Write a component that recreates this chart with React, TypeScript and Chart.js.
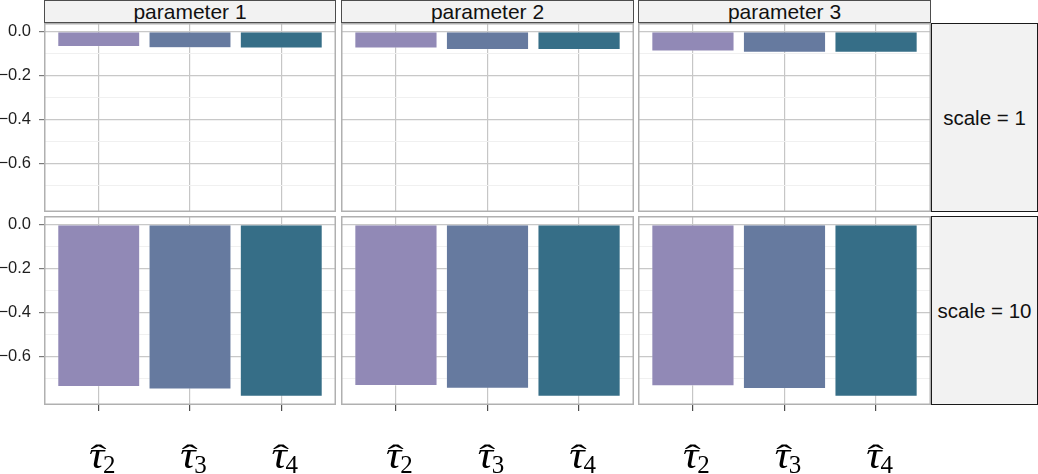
import React, { useEffect, useRef } from "react";
import { Chart, registerables } from "chart.js";
Chart.register(...registerables);

// ---------- data ----------
const parameterNames = ["parameter 1", "parameter 2", "parameter 3"];
const scaleNames = ["scale = 1", "scale = 10"];
const categories = ["τ̂₂", "τ̂₃", "τ̂₄"];
const barColors = ["#9189B6", "#667A9F", "#366E87"];

const scale1Param1 = [-0.068, -0.074, -0.075];
const scale1Param2 = [-0.075, -0.082, -0.082];
const scale1Param3 = [-0.089, -0.094, -0.094];
const scale10Param1 = [-0.737, -0.749, -0.782];
const scale10Param2 = [-0.733, -0.745, -0.782];
const scale10Param3 = [-0.734, -0.746, -0.782];

const yMajorTicks = [0, -0.2, -0.4, -0.6];
const yMinorTicks = [-0.1, -0.3, -0.5, -0.7];
const yMin = -0.821;
const yMax = 0.039;

const panelValues = [
  [scale1Param1, scale1Param2, scale1Param3],
  [scale10Param1, scale10Param2, scale10Param3],
];

// ---------- layout ----------
const W = 1038;
const H = 474;
const colLeft = [44, 341, 638];
const colRight = [336, 634, 931];
const rowTop = [23, 216];
const rowBottom = [212, 405];
const stripH = 23;
const rightStripLeft = 931;

const subMap: Record<string, string> = { "₀": "0", "₁": "1", "₂": "2", "₃": "3", "₄": "4", "₅": "5", "₆": "6", "₇": "7", "₈": "8", "₉": "9" };

const isMajor = (v: number) => yMajorTicks.some((t) => Math.abs(t - v) < 1e-9);
const fmt = (v: number) => (Math.abs(v) < 1e-9 ? "0.0" : "\u2212" + Math.abs(v).toFixed(1));

function zeroPad(s: any) {
  s.paddingTop = 0;
  s.paddingBottom = 0;
  s.paddingLeft = 0;
  s.paddingRight = 0;
}

function Panel({ row, col }: { row: number; col: number }) {
  const ref = useRef<HTMLCanvasElement | null>(null);
  const leftAxisW = col === 0 ? 44 : 0;
  const bottomAxisH = row === 1 ? H - rowBottom[1] : 0;
  const width = colRight[col] - colLeft[col] + leftAxisW;
  const height = rowBottom[row] - rowTop[row] + bottomAxisH;

  useEffect(() => {
    if (!ref.current) return;
    const values = panelValues[row][col];
    const panelPlugin = {
      id: "panelDeco",
      afterDatasetsDraw(chart: any) {
        const { ctx, chartArea } = chart;
        ctx.save();
        ctx.strokeStyle = "#B0B0B0";
        ctx.lineWidth = 1.5;
        ctx.strokeRect(chartArea.left + 0.75, chartArea.top + 0.75, chartArea.right - chartArea.left - 1.5, chartArea.bottom - chartArea.top - 1.5);
        ctx.restore();
      },
      afterDraw(chart: any) {
        if (row !== 1) return;
        const { ctx, chartArea } = chart;
        const xs = chart.scales.x;
        ctx.save();
        ctx.fillStyle = "#000";
        ctx.textBaseline = "alphabetic";
        ctx.textAlign = "left";
        categories.forEach((label, i) => {
          const px = xs.getPixelForValue(i + 1);
          const base = label[0];
          const subRaw = label.slice(2);
          const sub = subRaw.split("").map((ch) => subMap[ch] ?? ch).join("");
          const baseFont = "italic 38px 'Liberation Serif'";
          const subFont = "25px 'Liberation Serif'";
          ctx.font = baseFont;
          const w1 = ctx.measureText(base).width * 1.12;
          ctx.font = subFont;
          const w2 = ctx.measureText(sub).width;
          const groupW = w1 - 1 + w2;
          const left = px + 3.5 - groupW / 2;
          const baseY = chartArea.bottom + 63;
          ctx.font = baseFont;
          ctx.save();
          ctx.translate(left, baseY);
          ctx.scale(1.12, 1);
          ctx.fillText(base, 0, 0);
          ctx.restore();
          // hat (wide circumflex accent)
          ctx.font = "30px 'Liberation Serif'";
          const hw = ctx.measureText("\u02C6").width;
          const hx = left + w1 / 2 + 2;
          ctx.save();
          ctx.translate(hx, baseY - 3);
          ctx.scale(1.6, 1);
          ctx.fillText("\u02C6", -hw / 2, 0);
          ctx.restore();
          ctx.font = subFont;
          ctx.fillText(sub, left + w1 - 1, baseY + 5);
        });
        ctx.restore();
      },
    };

    const chart = new Chart(ref.current, {
      type: "bar",
      data: {
        datasets: [
          {
            data: values.map((v, i) => ({ x: i + 1, y: v })),
            backgroundColor: barColors,
            borderColor: "rgba(255,255,255,0.55)",
            borderWidth: 0.6,
            barPercentage: 0.9,
            categoryPercentage: 1,
          } as any,
        ],
      },
      options: {
        responsive: false,
        maintainAspectRatio: false,
        animation: false,
        layout: { padding: 0 },
        plugins: { legend: { display: false }, tooltip: { enabled: false } },
        scales: {
          x: {
            type: "linear",
            offset: false,
            min: 0.4,
            max: 3.6,
            afterBuildTicks: (s: any) => {
              s.ticks = categories.map((_, i) => ({ value: i + 1 }));
            },
            grid: {
              offset: false,
              color: "#C6C6C6",
              lineWidth: 1.2,
              drawTicks: row === 1,
              tickLength: 6,
              tickColor: "#4D4D4D",
            },
            border: { display: false },
            ticks: { display: false },
            afterFit: (s: any) => {
              s.height = bottomAxisH;
              zeroPad(s);
            },
          },
          y: {
            type: "linear",
            min: yMin,
            max: yMax,
            afterBuildTicks: (s: any) => {
              s.ticks = [...yMajorTicks, ...yMinorTicks].sort((a, b) => b - a).map((v) => ({ value: v }));
            },
            grid: {
              color: (c: any) => (isMajor(c.tick.value) ? "#C8C8C8" : "#F0F0F0"),
              lineWidth: (c: any) => (isMajor(c.tick.value) ? 1.2 : 1),
              drawTicks: col === 0,
              tickLength: 5,
              tickColor: (c: any) => (isMajor(c.tick.value) ? "#7A7A7A" : "rgba(0,0,0,0)"),
            },
            border: { display: false },
            ticks: {
              display: col === 0,
              autoSkip: false,
              padding: 8,
              color: "#1E1E1E",
              font: { family: "'Liberation Sans', Arial, sans-serif", size: 16.5 },
              callback: (v: any) => (isMajor(Number(v)) ? fmt(Number(v)) : ""),
            },
            afterFit: (s: any) => {
              s.width = leftAxisW;
              zeroPad(s);
            },
          },
        },
      } as any,
      plugins: [panelPlugin],
    });
    return () => chart.destroy();
  }, [row, col]);

  return (
    <canvas
      ref={ref}
      width={width}
      height={height}
      style={{
        position: "absolute",
        left: colLeft[col] - leftAxisW,
        top: rowTop[row],
        width,
        height,
        display: "block",
      }}
    />
  );
}

export default function App() {
  const font = "'Liberation Sans', Arial, Helvetica, sans-serif";
  return (
    <div style={{ position: "absolute", left: 0, top: 0, width: W, height: H, background: "#fff", overflow: "hidden" }}>
      {parameterNames.map((name, c) => (
        <div
          key={"top" + c}
          style={{
            position: "absolute",
            left: colLeft[c],
            top: 0,
            width: colRight[c] - colLeft[c],
            height: stripH,
            boxSizing: "border-box",
            border: "1px solid #4D4D4D",
            background: "#F2F2F2",
            fontFamily: font,
            fontSize: 21,
            lineHeight: "21px",
            textAlign: "center",
            color: "#111",
          }}
        >
          {name}
        </div>
      ))}
      {scaleNames.map((name, r) => (
        <div
          key={"right" + r}
          style={{
            position: "absolute",
            left: rightStripLeft,
            top: rowTop[r],
            width: W - rightStripLeft,
            height: rowBottom[r] - rowTop[r],
            boxSizing: "border-box",
            border: "1px solid #1A1A1A",
            background: "#F2F2F2",
            fontFamily: font,
            fontSize: 20.5,
            display: "flex",
            alignItems: "center",
            justifyContent: "center",
            color: "#111",
            whiteSpace: "nowrap",
          }}
        >
          {name}
        </div>
      ))}
      {[0, 1].map((r) => [0, 1, 2].map((c) => <Panel key={r + "-" + c} row={r} col={c} />))}
    </div>
  );
}
